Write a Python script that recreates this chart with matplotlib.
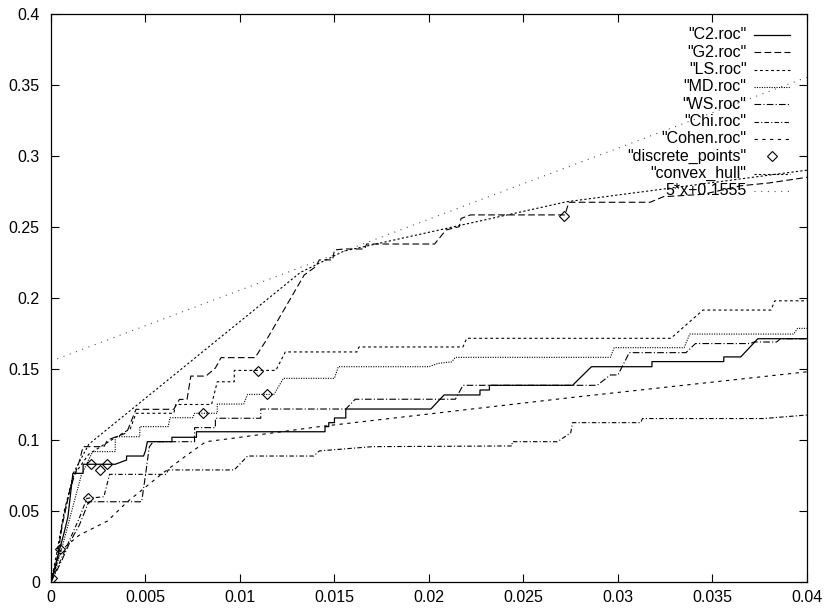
import numpy as np
import matplotlib
matplotlib.use("Agg")
import matplotlib.pyplot as plt
from matplotlib.ticker import MultipleLocator, FuncFormatter

# # # # # data # # # # #

c2_pts = [(0, 0), (0.0004, 0.020), (0.0007, 0.035), (0.0009, 0.046), (0.00116, 0.0765),
	(0.0017, 0.0765), (0.0017, 0.0829), (0.0034, 0.0829), (0.0040, 0.0859), (0.0040, 0.0887),
	(0.0049, 0.0887), (0.0050, 0.0923), (0.0051, 0.0988), (0.0064, 0.0988), (0.0064, 0.1019),
	(0.0077, 0.1019), (0.0077, 0.1058), (0.0145, 0.1058), (0.0145, 0.1094), (0.0147, 0.1094),
	(0.0147, 0.1122), (0.0150, 0.1122), (0.0150, 0.1155), (0.0156, 0.1155), (0.0156, 0.1218),
	(0.0201, 0.1218), (0.0208, 0.1317), (0.0227, 0.1317), (0.0227, 0.1352), (0.0232, 0.1352),
	(0.0232, 0.1385), (0.0276, 0.1385), (0.0286, 0.1516), (0.0318, 0.1516), (0.0318, 0.1552),
	(0.0356, 0.1552), (0.0356, 0.1585), (0.0365, 0.1585), (0.0374, 0.1713), (0.0400, 0.1713)]

g2_pts = [(0, 0), (0.0003, 0.015), (0.0006, 0.040), (0.0010, 0.065), (0.0015, 0.085),
	(0.0017, 0.0953), (0.0028, 0.0953), (0.0030, 0.1000), (0.0040, 0.1050), (0.0043, 0.1150),
	(0.0045, 0.1216), (0.0065, 0.1216), (0.0068, 0.1286), (0.0072, 0.1286), (0.0074, 0.1450),
	(0.0082, 0.1450), (0.0087, 0.1507), (0.0090, 0.1580), (0.0108, 0.1580), (0.0114, 0.1704),
	(0.0134, 0.2162), (0.0140, 0.2220), (0.0142, 0.2268), (0.0149, 0.2268), (0.0150, 0.2338),
	(0.0155, 0.2345), (0.0166, 0.2345), (0.0167, 0.2380), (0.0203, 0.2380), (0.0209, 0.2479),
	(0.0216, 0.2502), (0.0217, 0.2560), (0.0222, 0.2585), (0.0272, 0.2585), (0.0274, 0.2674),
	(0.0317, 0.2674), (0.0324, 0.2713), (0.0345, 0.2730), (0.0355, 0.2760), (0.0365, 0.2790),
	(0.0380, 0.2810), (0.0400, 0.2850)]

ls_pts = [(0, 0), (0.0003, 0.020), (0.0007, 0.050), (0.0012, 0.075), (0.0020, 0.090),
	(0.0032, 0.100), (0.0042, 0.108), (0.0045, 0.1188), (0.0065, 0.1188), (0.0066, 0.1250),
	(0.0085, 0.1250), (0.0088, 0.1410), (0.0097, 0.1410), (0.0097, 0.1490), (0.0119, 0.1490),
	(0.0124, 0.1620), (0.0162, 0.1620), (0.0163, 0.1655), (0.0218, 0.1655), (0.0220, 0.1716),
	(0.0328, 0.1716), (0.0345, 0.1915), (0.0381, 0.1915), (0.0383, 0.1980), (0.0400, 0.1980)]

md_pts = [(0, 0), (0.0005, 0.020), (0.0010, 0.045), (0.0016, 0.075), (0.0022, 0.0918),
	(0.0034, 0.0918), (0.0034, 0.1023), (0.0047, 0.1023), (0.0047, 0.1094), (0.0062, 0.1094),
	(0.0063, 0.1157), (0.0075, 0.1157), (0.0076, 0.1188), (0.0088, 0.1188), (0.0088, 0.1253),
	(0.0102, 0.1253), (0.0104, 0.1321), (0.0118, 0.1321), (0.0123, 0.1434), (0.0150, 0.1434),
	(0.0152, 0.1516), (0.0200, 0.1516), (0.0205, 0.1540), (0.0212, 0.1550), (0.0214, 0.1582),
	(0.0296, 0.1582), (0.0298, 0.1650), (0.0335, 0.1650), (0.0338, 0.1746), (0.0393, 0.1746),
	(0.0395, 0.1786), (0.0400, 0.1786)]

ws_pts = [(0, 0), (0.0005, 0.013), (0.0010, 0.028), (0.0015, 0.040), (0.0020, 0.0565),
	(0.0048, 0.0565), (0.0050, 0.075), (0.0052, 0.095), (0.0054, 0.0988), (0.0076, 0.0988),
	(0.0076, 0.1087), (0.0087, 0.1087), (0.0087, 0.1153), (0.0111, 0.1153), (0.0111, 0.1218),
	(0.0156, 0.1218), (0.0161, 0.1287), (0.0214, 0.1287), (0.0218, 0.1385), (0.0289, 0.1385),
	(0.0296, 0.1458), (0.0300, 0.1458), (0.0306, 0.1615), (0.0336, 0.1615), (0.0341, 0.1679),
	(0.0370, 0.1679), (0.0372, 0.1690), (0.0384, 0.1690), (0.0386, 0.1713), (0.0400, 0.1713)]

chi_pts = [(0, 0), (0.0004, 0.012), (0.0010, 0.030), (0.0015, 0.045), (0.0019, 0.0589),
	(0.0028, 0.0600), (0.0031, 0.0758), (0.0061, 0.0758), (0.0062, 0.0789), (0.0097, 0.0789),
	(0.0104, 0.0887), (0.0139, 0.0887), (0.0142, 0.0923), (0.0170, 0.0953), (0.0244, 0.0958),
	(0.0244, 0.0988), (0.0268, 0.0988), (0.0275, 0.1050), (0.0276, 0.1122), (0.0312, 0.1122),
	(0.0313, 0.1151), (0.0377, 0.1151), (0.0400, 0.1176)]

cohen_pts = [(0, 0), (0.0005, 0.022), (0.0015, 0.033), (0.0030, 0.043), (0.0040, 0.056),
	(0.0059, 0.0765), (0.0072, 0.0894), (0.0082, 0.0988), (0.0095, 0.1010), (0.0142, 0.1094),
	(0.0211, 0.1200), (0.0276, 0.1300), (0.0400, 0.1480)]

discrete_pts = [(0.00004, 0.0028), (0.00048, 0.0235), (0.00196, 0.0594), (0.0021, 0.0829),
	(0.00258, 0.0789), (0.00298, 0.0829), (0.00806, 0.1188), (0.01097, 0.1488),
	(0.01144, 0.1321), (0.02714, 0.2577)]

hull_pts = [(0, 0), (0.0003, 0.012), (0.0006, 0.042), (0.0012, 0.077), (0.0020, 0.097),
	(0.0132, 0.218), (0.0155, 0.233), (0.0273, 0.2678), (0.0400, 0.2900)]

# tangent line 5*x+0.1555
line_slope = 5.0
line_icpt = 0.1555
line_xrange = [0.0, 0.04]


# # # # # styles # # # # #

series = [
	('"C2.roc"', c2_pts, dict(ls='-', lw=0.9)),
	('"G2.roc"', g2_pts, dict(ls=(0, (6, 3)), lw=0.8)),
	('"LS.roc"', ls_pts, dict(ls=(0, (2.5, 2.5)), lw=0.8)),
	('"MD.roc"', md_pts, dict(ls=(0, (1, 1.2)), lw=0.8)),
	('"WS.roc"', ws_pts, dict(ls=(0, (6, 2, 1, 2)), lw=0.8)),
	('"Chi.roc"', chi_pts, dict(ls=(0, (4, 2, 1, 2)), lw=0.8)),
	('"Cohen.roc"', cohen_pts, dict(ls=(0, (3, 4)), lw=0.8)),
]
hull_style = dict(ls=(0, (2, 2)), lw=0.8)
line_style = dict(ls=(0, (1, 5)), lw=0.8, color='#555555')
diamond_style = dict(ls='none', marker='D', ms=5.5, mfc='none', mec='k', mew=0.8)


# # # # # figure # # # # #

plt.rcParams['font.family'] = ['Liberation Sans', 'DejaVu Sans']
plt.rcParams['font.size'] = 11.5

fig = plt.figure(figsize=(8.3, 6.13), dpi=100)
ax = fig.add_axes([0.0614, 0.0506, 0.9108, 0.9266])

# roc curves
for label, pts, style in series:
	xs, ys = zip(*pts)
	ax.plot(xs, ys, color='k', **style)

# discrete points and convex hull
dx, dy = zip(*discrete_pts)
ax.plot(dx, dy, **diamond_style)
hx, hy = zip(*hull_pts)
ax.plot(hx, hy, color='k', **hull_style)

# straight line
lx = np.array(line_xrange)
ax.plot(lx, line_slope*lx + line_icpt, **line_style)

# axes look like gnuplot
ax.set_xlim(0, 0.04)
ax.set_ylim(0, 0.4)
ax.xaxis.set_major_locator(MultipleLocator(0.005))
ax.yaxis.set_major_locator(MultipleLocator(0.05))
fmt = FuncFormatter(lambda v, p: '%g' % round(v, 4))
ax.xaxis.set_major_formatter(fmt)
ax.yaxis.set_major_formatter(fmt)
ax.tick_params(direction='in', length=6, width=0.8, top=True, right=True)
ax.tick_params(axis='y', pad=8)
ax.tick_params(axis='x', pad=6)
for sp in ax.spines.values():
	sp.set_linewidth(0.9)

# legend drawn by hand (gnuplot style, text right aligned, sample on right)
txt_x = 0.920
smp_x = [0.930, 0.977]
row0 = 0.963
row_step = 0.0305
legend_rows = [(lab, st) for lab, _, st in series]
legend_rows.append(('"discrete_points"', None))
legend_rows.append(('"convex_hull"', hull_style))
legend_rows.append(('5*x+0.1555', line_style))
for i, (lab, st) in enumerate(legend_rows):
	yy = row0 - i*row_step
	ax.text(txt_x, yy, lab, transform=ax.transAxes, ha='right', va='center')
	if st is None:
		ax.plot([np.mean(smp_x)], [yy], transform=ax.transAxes, **diamond_style)
	else:
		st2 = dict(st)
		st2.setdefault('color', 'k')
		ax.plot(smp_x, [yy, yy], transform=ax.transAxes, **st2)

fig.savefig('out.png', dpi=100)
